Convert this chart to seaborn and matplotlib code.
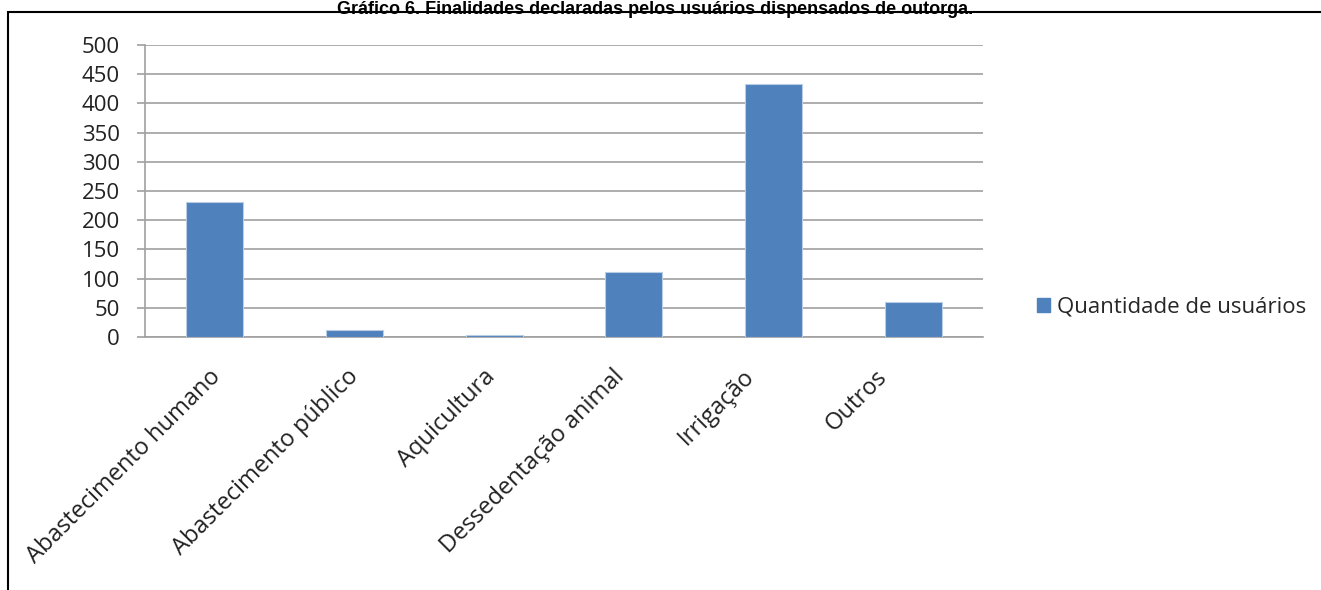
import matplotlib
matplotlib.use("Agg")
import matplotlib.pyplot as plt
import matplotlib.transforms as mtrans
import seaborn as sns
import pandas as pd
from matplotlib.patches import Rectangle, Patch

categories = ["Abastecimento humano", "Abastecimento público", "Aquicultura",
              "Dessedentação animal", "Irrigação", "Outros"]
values = [232, 12, 3, 111, 434, 60]
series_name = "Quantidade de usuários"
yticks = [0, 50, 100, 150, 200, 250, 300, 350, 400, 450, 500]
title = "Gráfico 6. Finalidades declaradas pelos usuários dispensados de outorga."

df = pd.DataFrame({"cat": categories, "val": values})

sns.set_theme(style="white")
plt.rcParams['font.family'] = ['Open Sans', 'DejaVu Sans']

W, H = 1321, 590
fig = plt.figure(figsize=(W / 100, H / 100), dpi=100)
ax = fig.add_axes([145 / W, 1 - 337 / H, (983 - 145) / W, (337 - 45) / H])

color = "#4F81BD"
sns.barplot(data=df, x="cat", y="val", color=color, width=0.41, ax=ax,
            saturation=1, edgecolor="#B9CDE5", linewidth=0.8, zorder=3)

ax.set_ylim(0, 500)
ax.set_xlim(-0.5, len(categories) - 0.5)
ax.set_yticks(yticks)
ax.set_yticklabels([str(v) for v in yticks], fontsize=16, color="#222222")
ax.yaxis.grid(True, color="#A0A0A0", linewidth=1.2, zorder=0)
ax.set_axisbelow(True)
ax.set_xlabel("")
ax.set_ylabel("")

for s in ["top", "right"]:
    ax.spines[s].set_visible(False)
for s in ["left", "bottom"]:
    ax.spines[s].set_color("#A0A0A0")
    ax.spines[s].set_linewidth(1.2)

# x labels at category centers, ticks at boundaries
ax.set_xticks(range(len(categories)))
ax.set_xticklabels(categories, rotation=45, ha="right", rotation_mode="anchor",
                   fontsize=17, color="#222222")
ax.tick_params(axis="x", which="major", length=0, pad=20)
ax.set_xticks([i - 0.5 for i in range(len(categories) + 1)], minor=True)
ax.tick_params(axis="x", which="minor", length=6, color="#A0A0A0", width=1.2, direction="out")
ax.tick_params(axis="y", length=6, color="#A0A0A0", width=1.2, direction="out", pad=12)
ax.tick_params(axis="both", bottom=True, left=True)

# small horizontal nudges of the rotated labels (pixels)
label_dx = [-6, -8, -11, -21, -31, -38]
for lab, dx in zip(ax.get_xticklabels(), label_dx):
    lab.set_transform(lab.get_transform() +
                      mtrans.ScaledTranslation(dx / 100, 0, fig.dpi_scale_trans))

handles = [Patch(facecolor=color, edgecolor=color, label=series_name)]
fig.legend(handles=handles, loc="center left", bbox_to_anchor=(1026 / W, 1 - 307 / H),
           frameon=False, fontsize=16, handlelength=0.6, handleheight=0.6,
           handletextpad=0.3, borderpad=0)

# outer frame
fig.patches.append(Rectangle((8 / W, -0.05), 1.2, 1 - 12 / H + 0.05,
                             transform=fig.transFigure, fill=False,
                             edgecolor="black", linewidth=1.5))

fig.text(655 / W, 1 - 0.5 / H, title, ha="center", va="top", fontsize=13,
         fontweight="bold", family=["Liberation Sans", "DejaVu Sans"], color="black")

fig.savefig("out.png", dpi=100)
